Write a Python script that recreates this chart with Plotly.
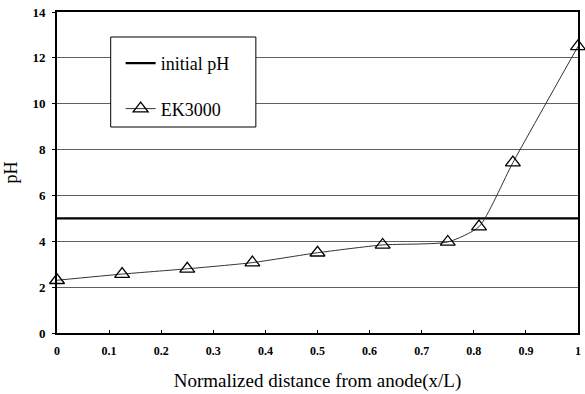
import plotly.graph_objects as go

# Data
x_pos = [0, 0.125, 0.25, 0.375, 0.5, 0.625, 0.75, 0.81, 0.875, 1.0]
ph_ek3000 = [2.3, 2.57, 2.8, 3.07, 3.5, 3.84, 3.97, 4.64, 7.43, 12.5]
initial_x = [0, 1]
initial_ph = [5, 5]
x_ticks = [0, 0.1, 0.2, 0.3, 0.4, 0.5, 0.6, 0.7, 0.8, 0.9, 1]
x_ticklabels = ["0", "0.1", "0.2", "0.3", "0.4", "0.5", "0.6", "0.7", "0.8", "0.9", "1"]
y_ticks = [0, 2, 4, 6, 8, 10, 12, 14]

serif = "Liberation Serif"

# plot area in pixels: x 57..581, y 12..333
def px_x(p):
    return (p - 57) / 524.0

def px_y(p):
    return (333 - p) / 321.0

fig = go.Figure()
fig.add_trace(go.Scatter(
    x=initial_x, y=initial_ph, mode="lines", name="initial pH",
    line=dict(color="black", width=2.2), legendgroup="a",
))
fig.add_trace(go.Scatter(
    x=x_pos, y=ph_ek3000, mode="lines+markers", name="EK3000",
    line=dict(color="#333333", width=1, shape="spline", smoothing=0.6),
    marker=dict(symbol="triangle-up-open", size=13, color="black", line=dict(width=1.3)),
    legendgroup="b", cliponaxis=False,
))

# legend frame
fig.add_shape(type="rect", xref="paper", yref="paper",
              x0=px_x(111), x1=px_x(257), y0=px_y(127), y1=px_y(37),
              fillcolor="white", line=dict(color="black", width=1), layer="above")

fig.update_layout(
    width=585, height=394,
    margin=dict(l=57, r=4, t=12, b=61),
    paper_bgcolor="white", plot_bgcolor="white",
    font=dict(family=serif, color="black"),
    showlegend=True,
    legend=dict(
        x=px_x(121), y=px_y(45), xanchor="left", yanchor="top",
        borderwidth=0, bgcolor="rgba(0,0,0,0)",
        font=dict(family=serif, size=18, color="black"),
        tracegroupgap=19, itemwidth=30,
    ),
    xaxis=dict(
        range=[0, 1], tickvals=x_ticks, ticktext=x_ticklabels,
        showgrid=False, zeroline=False,
        showline=True, linecolor="black", linewidth=2, mirror=True,
        ticks="inside", ticklen=3, tickcolor="black",
        ticklabelstandoff=6,
        tickfont=dict(family=serif, size=12, color="black", weight="bold"),
        title=dict(text="Normalized distance from anode(x/L)",
                   font=dict(family=serif, size=19, color="black"), standoff=16),
    ),
    yaxis=dict(
        range=[0, 14], tickvals=y_ticks,
        showgrid=True, gridcolor="#606060", gridwidth=1, zeroline=False,
        showline=True, linecolor="black", linewidth=2, mirror=True,
        ticks="outside", ticklen=3, tickcolor="black",
        ticklabelstandoff=4,
        tickfont=dict(family=serif, size=13, color="black", weight="bold"),
        title=dict(text="pH", font=dict(family=serif, size=18, color="black"), standoff=10),
    ),
)

fig.write_html("out.html")
